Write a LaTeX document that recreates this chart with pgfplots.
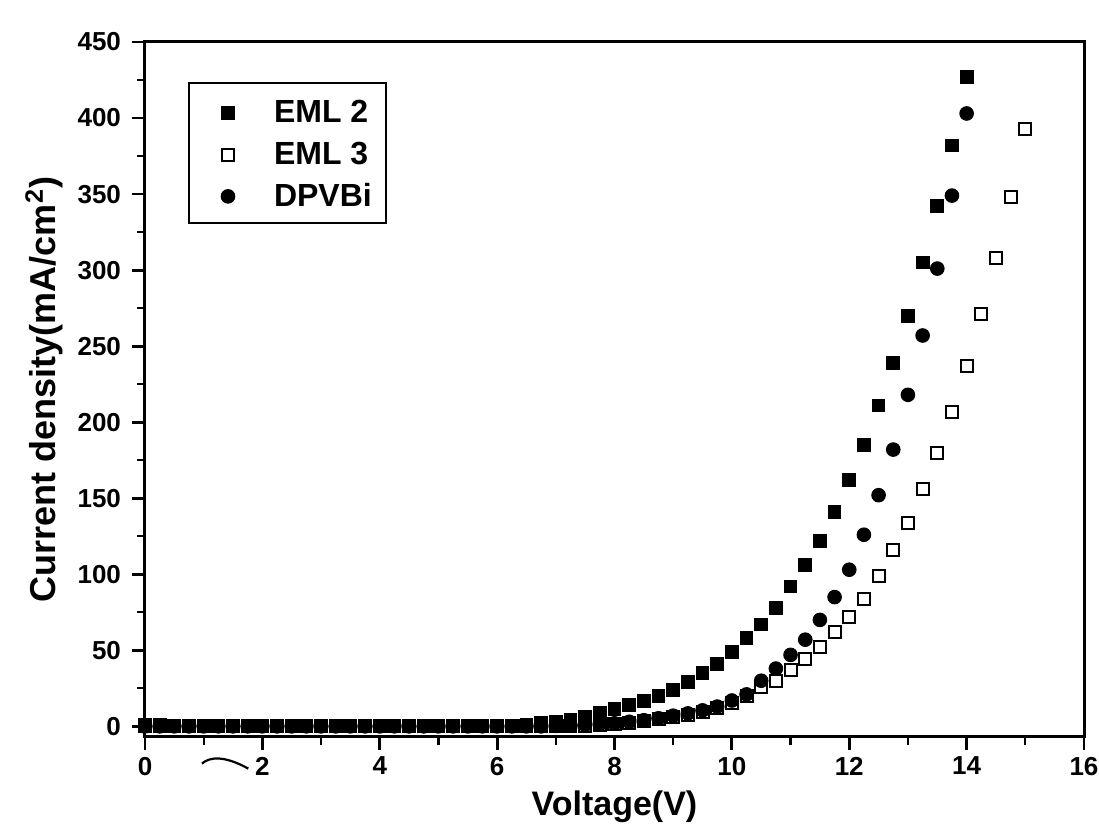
\documentclass[border=0pt]{standalone}
\usepackage{fontspec}
\setmainfont{Liberation Sans}
\usepackage{pgfplots}
\pgfplotsset{compat=1.18}
\pgfplotsset{
  myleg/.style={legend image code/.code={%
      \path[draw=none,fill=none] (-12.5pt,-4.5pt) rectangle (6pt,8.25pt);
      \draw[##1] plot coordinates {(0pt,0pt)};}},
}
\begin{document}
\begin{tikzpicture}
\begin{axis}[
  scale only axis, width=469.5pt, height=347.5pt,
  xmin=0, xmax=16, ymin=-7, ymax=450,
  xtick={0,2,...,16}, ytick={0,50,...,450},
  minor tick num=1,
  tick align=outside, tick pos=left,
  major tick length=6.5pt, minor tick length=4pt,
  major tick style={line width=1.4pt, black},
  minor tick style={line width=1.1pt, black},
  axis line style={line width=1.5pt},
  tick label style={font=\fontsize{13}{15}\selectfont\bfseries},
  yticklabel style={xshift=-2pt},
  /pgf/number format/assume math mode=true,
  label style={font=\fontsize{17}{20}\selectfont\bfseries},
  xlabel={Voltage(V)},
  ylabel={Current density(mA/cm\textsuperscript{2})},
  xlabel style={at={(axis description cs:0.5,-0.1007)}, anchor=center},
  ylabel style={at={(axis description cs:-0.1075,0.5)}, anchor=center, font=\fontsize{18}{20}\selectfont\bfseries},
  clip=false,
  legend style={at={(axis description cs:0.0458,0.9424)}, anchor=north west,
    draw=black, line width=1pt, font=\fontsize{16}{18}\selectfont\bfseries,
    inner xsep=7pt, inner ysep=6.75pt, row sep=6.25pt,
    nodes={inner sep=0pt},
    /tikz/every odd column/.append style={column sep=17pt}},
  legend cell align=left,
]
\addplot[only marks, mark=square*, mark size=3.2pt, black, line width=0.5pt, myleg] table {
x y
0 1
0.25 1
0.5 0.5
0.75 0
1 0
1.25 0
1.5 0
1.75 0
2 0
2.25 0
2.5 0
2.75 0
3 0
3.25 0
3.5 0
3.75 0
4 0
4.25 0
4.5 0
4.75 0
5 0
5.25 0
5.5 0
5.75 0
6 0
6.25 0.3
6.5 1
6.75 2
7 3
7.25 4.5
7.5 6.5
7.75 9
8 11.5
8.25 14
8.5 16.5
8.75 20
9 24
9.25 29
9.5 35
9.75 41
10 49
10.25 58
10.5 67
10.75 78
11 92
11.25 106
11.5 122
11.75 141
12 162
12.25 185
12.5 211
12.75 239
13 270
13.25 305
13.5 342
13.75 382
14 427
};
\addlegendentry{EML 2}
\addplot[only marks, mark=square, mark size=3pt, black, line width=1pt, myleg] table {
x y
0 0
0.25 0
0.5 0
0.75 0
1 0
1.25 0
1.5 0
1.75 0
2 0
2.25 0
2.5 0
2.75 0
3 0
3.25 0
3.5 0
3.75 0
4 0
4.25 0
4.5 0
4.75 0
5 0
5.25 0
5.5 0
5.75 0
6 0
6.25 0
6.5 0
6.75 0
7 0
7.25 0.3
7.5 0.5
7.75 1
8 1.5
8.25 2.5
8.5 3.5
8.75 4.8
9 6
9.25 7.5
9.5 9.5
9.75 12
10 15.5
10.25 20
10.5 26
10.75 30
11 37
11.25 44
11.5 52
11.75 62
12 72
12.25 84
12.5 99
12.75 116
13 134
13.25 156
13.5 180
13.75 207
14 237
14.25 271
14.5 308
14.75 348
15 393
};
\addlegendentry{EML 3}
\addplot[only marks, mark=*, mark size=3.4pt, black, line width=0.5pt, myleg] table {
x y
0 0
0.25 0
0.5 0
0.75 0
1 0
1.25 0
1.5 0
1.75 0
2 0
2.25 0
2.5 0
2.75 0
3 0
3.25 0
3.5 0
3.75 0
4 0
4.25 0
4.5 0
4.75 0
5 0
5.25 0
5.5 0
5.75 0
6 0
6.25 0
6.5 0
6.75 0
7 0.3
7.25 0.5
7.5 1
7.75 1.5
8 2
8.25 3
8.5 4
8.75 5.3
9 7
9.25 8.5
9.5 10.5
9.75 13
10 17
10.25 21
10.5 30
10.75 38
11 47
11.25 57
11.5 70
11.75 85
12 103
12.25 126
12.5 152
12.75 182
13 218
13.25 257
13.5 301
13.75 349
14 403
};
\addlegendentry{DPVBi}
\draw[line width=1.1pt] (axis cs:0.97,-24.5) .. controls (axis cs:1.1,-20) and (axis cs:1.35,-19) .. (axis cs:1.76,-27.8);
\end{axis}
\pgfresetboundingbox
\path[use as bounding box] ([shift={(-72.5pt,-43.5pt)}]current axis.south west) rectangle ([shift={(7.5pt,21pt)}]current axis.north east);
\end{tikzpicture}
\end{document}
